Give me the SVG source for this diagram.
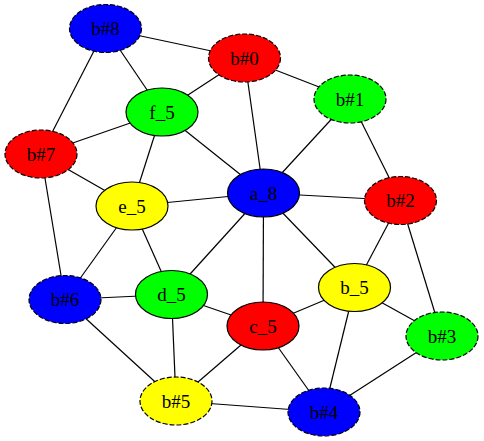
<svg xmlns="http://www.w3.org/2000/svg" width="484" height="441" viewBox="0 0 484 441">
<style>
.e line{stroke:#000;stroke-width:1.2}
ellipse{stroke:#000;stroke-width:1.2}
.d ellipse{stroke-dasharray:5,2}
text{font-family:"Liberation Serif","Times New Roman",serif;font-size:19px;text-anchor:middle;fill:#000}
</style>
<rect width="484" height="441" fill="#fff"/>
<g id="edges" class="e">
<line x1="105.5" y1="28.5" x2="244.5" y2="58"/>
<line x1="105.5" y1="28.5" x2="162" y2="112"/>
<line x1="105.5" y1="28.5" x2="41" y2="154"/>
<line x1="244.5" y1="58" x2="162" y2="112"/>
<line x1="244.5" y1="58" x2="263.5" y2="193"/>
<line x1="244.5" y1="58" x2="350" y2="99"/>
<line x1="350" y1="99" x2="263.5" y2="193"/>
<line x1="350" y1="99" x2="400.5" y2="200.5"/>
<line x1="162" y1="112" x2="41" y2="154"/>
<line x1="162" y1="112" x2="132" y2="206"/>
<line x1="162" y1="112" x2="263.5" y2="193"/>
<line x1="41" y1="154" x2="132" y2="206"/>
<line x1="41" y1="154" x2="65" y2="299.5"/>
<line x1="132" y1="206" x2="263.5" y2="193"/>
<line x1="132" y1="206" x2="65" y2="299.5"/>
<line x1="132" y1="206" x2="171.5" y2="294.5"/>
<line x1="263.5" y1="193" x2="400.5" y2="200.5"/>
<line x1="263.5" y1="193" x2="171.5" y2="294.5"/>
<line x1="263.5" y1="193" x2="263" y2="326"/>
<line x1="263.5" y1="193" x2="354.5" y2="287.5"/>
<line x1="400.5" y1="200.5" x2="354.5" y2="287.5"/>
<line x1="400.5" y1="200.5" x2="442" y2="336"/>
<line x1="65" y1="299.5" x2="171.5" y2="294.5"/>
<line x1="65" y1="299.5" x2="176" y2="401"/>
<line x1="171.5" y1="294.5" x2="263" y2="326"/>
<line x1="171.5" y1="294.5" x2="176" y2="401"/>
<line x1="263" y1="326" x2="354.5" y2="287.5"/>
<line x1="263" y1="326" x2="176" y2="401"/>
<line x1="263" y1="326" x2="324" y2="412"/>
<line x1="354.5" y1="287.5" x2="442" y2="336"/>
<line x1="354.5" y1="287.5" x2="324" y2="412"/>
<line x1="442" y1="336" x2="324" y2="412"/>
<line x1="176" y1="401" x2="324" y2="412"/>
</g>
<g id="b8" class="d"><ellipse cx="105.5" cy="28.5" rx="36" ry="24" fill="#0000ff"/><text x="105.5" y="35">b#8</text></g>
<g id="b0" class="d"><ellipse cx="244.5" cy="58" rx="36" ry="24" fill="#ff0000"/><text x="244.5" y="64.5">b#0</text></g>
<g id="b1" class="d"><ellipse cx="350" cy="99" rx="36" ry="24" fill="#00ff00"/><text x="350" y="105.5">b#1</text></g>
<g id="f5"><ellipse cx="162" cy="112" rx="36" ry="24" fill="#00ff00"/><text x="162" y="118.5">f_5</text></g>
<g id="b7" class="d"><ellipse cx="41" cy="154" rx="36" ry="24" fill="#ff0000"/><text x="41" y="160.5">b#7</text></g>
<g id="a8"><ellipse cx="263.5" cy="193" rx="36" ry="24" fill="#0000ff"/><text x="263.5" y="199.5">a_8</text></g>
<g id="b2" class="d"><ellipse cx="400.5" cy="200.5" rx="36" ry="24" fill="#ff0000"/><text x="400.5" y="207">b#2</text></g>
<g id="e5"><ellipse cx="132" cy="206" rx="36" ry="24" fill="#ffff00"/><text x="132" y="212.5">e_5</text></g>
<g id="b6" class="d"><ellipse cx="65" cy="299.5" rx="36" ry="24" fill="#0000ff"/><text x="65" y="306">b#6</text></g>
<g id="d5"><ellipse cx="171.5" cy="294.5" rx="36" ry="24" fill="#00ff00"/><text x="171.5" y="301">d_5</text></g>
<g id="b_5"><ellipse cx="354.5" cy="287.5" rx="36" ry="24" fill="#ffff00"/><text x="354.5" y="294">b_5</text></g>
<g id="c5"><ellipse cx="263" cy="326" rx="36" ry="24" fill="#ff0000"/><text x="263" y="332.5">c_5</text></g>
<g id="b3" class="d"><ellipse cx="442" cy="336" rx="36" ry="24" fill="#00ff00"/><text x="442" y="342.5">b#3</text></g>
<g id="b5" class="d"><ellipse cx="176" cy="401" rx="36" ry="24" fill="#ffff00"/><text x="176" y="407.5">b#5</text></g>
<g id="b4" class="d"><ellipse cx="324" cy="412" rx="36" ry="24" fill="#0000ff"/><text x="324" y="418.5">b#4</text></g>
</svg>
